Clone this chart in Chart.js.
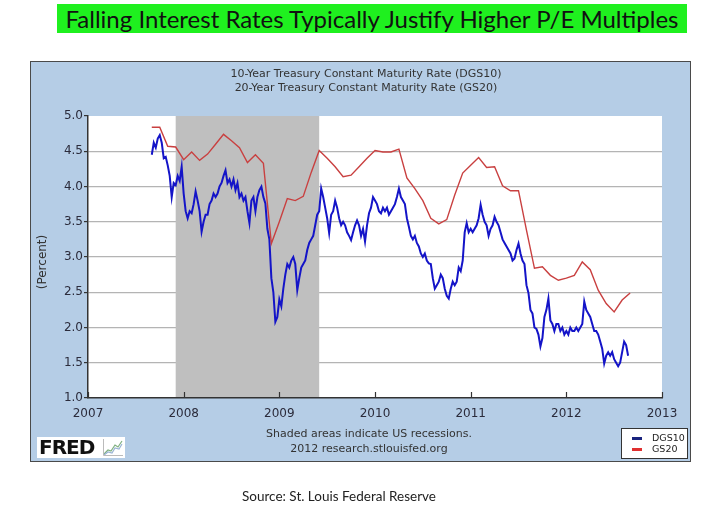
<!DOCTYPE html>
<html lang="en">
<head>
  <meta charset="UTF-8">
  <title>Falling Interest Rates Typically Justify Higher P/E Multiples</title>
  <script src="https://cdn.jsdelivr.net/npm/chart.js"></script>
  <style>
    body {
      margin: 0;
      width: 721px;
      height: 508px;
      position: relative;
      overflow: hidden;
      background: #fff;
      font-family: 'DejaVu Sans', sans-serif;
    }
    #headline {
      position: absolute;
      left: 57px;
      top: 4px;
      width: 630px;
      height: 29px;
      background: #1ff01f;
      color: #111;
      font-family: 'Lato', sans-serif;
      font-size: 24px;
      line-height: 29px;
      text-align: center;
      white-space: nowrap;
    }
    #panel {
      position: absolute;
      left: 30px;
      top: 61px;
      width: 661px;
      height: 401px;
      box-sizing: border-box;
      background: #b5cde6;
      border: 1.5px solid #4a4a4a;
    }
    #chart {
      position: absolute;
      left: 0;
      top: 0;
    }
    .txt {
      position: absolute;
      color: #333;
      font-size: 11px;
      line-height: 14px;
      text-align: center;
      white-space: nowrap;
    }
    #yTitle {
      left: -8px;
      top: 255px;
      width: 100px;
      font-size: 12px;
      transform: rotate(-90deg);
    }
    #legend {
      position: absolute;
      left: 621px;
      top: 428px;
      width: 67px;
      height: 31px;
      box-sizing: border-box;
      background: #fff;
      border: 1px solid #333;
      font-size: 9.5px;
      color: #222;
    }
    .item { position: absolute; left: 10px; height: 11px; line-height: 11px; }
    .item span { display: inline-block; width: 10px; height: 3px; vertical-align: middle; margin-right: 10px; }
    #fred {
      position: absolute;
      left: 37px;
      top: 437px;
      width: 88px;
      height: 21px;
      background: #fff;
    }
    #fred b {
      position: absolute;
      left: 2px;
      top: -1px;
      font-family: 'DejaVu Sans', sans-serif;
      font-weight: 900;
      font-size: 20px;
      line-height: 23px;
      letter-spacing: -1px;
      color: #111;
    }
    #fred svg { position: absolute; left: 66px; top: 2px; }
    #source {
      position: absolute;
      left: 189px;
      top: 488px;
      width: 300px;
      text-align: center;
      font-family: 'Lato', sans-serif;
      font-size: 13.5px;
      color: #222;
    }
  </style>
</head>
<body>
  <div id="headline">Falling Interest Rates Typically Justify Higher P/E Multiples</div>
  <div id="panel"></div>
  <canvas id="chart" width="721" height="508"></canvas>

  <div class="txt" style="left:166px; top:67px; width:400px;">10-Year Treasury Constant Maturity Rate (DGS10)</div>
  <div class="txt" style="left:166px; top:81px; width:400px;">20-Year Treasury Constant Maturity Rate (GS20)</div>
  <div class="txt" id="yTitle">(Percent)</div>
  <div class="txt" style="left:219px; top:427px; width:300px;">Shaded areas indicate US recessions.</div>
  <div class="txt" style="left:219px; top:442px; width:300px;">2012 research.stlouisfed.org</div>

  <div id="fred">
    <b>FRED</b>
    <svg width="20" height="17" viewBox="0 0 20 17">
      <polyline points="1,15 5,11 8,12 12,6 15,8 19,2" fill="none" stroke="#7fb07f" stroke-width="1.2"/>
      <polyline points="1,16 5,13 9,14 12,9 16,10 19,5" fill="none" stroke="#9ab4d4" stroke-width="1.2"/>
      <line x1="0.5" y1="0" x2="0.5" y2="16.5" stroke="#bbb"/>
      <line x1="0.5" y1="16.5" x2="20" y2="16.5" stroke="#bbb"/>
    </svg>
  </div>

  <div id="legend">
    <div class="item" style="top:3px;"><span style="background:#1a237e;"></span>DGS10</div>
    <div class="item" style="top:14px;"><span style="background:#e03030;"></span>GS20</div>
  </div>

  <div id="source">Source: St. Louis Federal Reserve</div>

  <script>
    // x axis range and ticks (years)
    const yearMin = 2007;
    const yearMax = 2013;
    const yTicksMin = 1.0;
    const yTicksMax = 5.0;

    // recession band, Dec 2007 - Jun 2009
    const recessionStart = 2007 + 11 / 12;
    const recessionEnd = 2009 + 5 / 12;

    // DGS10: four readings per month, starting Sep 2007
    const dgs10Start = 2007 + 8 / 12;
    const dgs10Values = [
      4.45, 4.62, 4.55, 4.68,   // 2007 Sep
      4.73, 4.62, 4.40, 4.42,   // Oct
      4.30, 4.15, 3.85, 4.05,   // Nov
      4.02, 4.15, 4.08, 4.28,   // Dec
      3.90, 3.65, 3.55, 3.65,   // 2008 Jan
      3.62, 3.75, 3.93, 3.80,   // Feb
      3.65, 3.36, 3.50, 3.60,   // Mar
      3.60, 3.75, 3.80, 3.90,   // Apr
      3.85, 3.90, 4.00, 4.05,   // May
      4.15, 4.23, 4.05, 4.10,   // Jun
      4.00, 4.10, 3.95, 4.05,   // Jul
      3.85, 3.90, 3.80, 3.85,   // Aug
      3.65, 3.48, 3.80, 3.85,   // Sep
      3.65, 3.85, 3.95, 4.00,   // Oct
      3.85, 3.76, 3.40, 3.25,   // Nov
      2.70, 2.50, 2.08, 2.15,   // Dec
      2.40, 2.30, 2.55, 2.75,   // 2009 Jan
      2.90, 2.85, 2.95, 3.00,   // Feb
      2.90, 2.53, 2.70, 2.85,   // Mar
      2.90, 2.95, 3.10, 3.20,   // Apr
      3.25, 3.30, 3.45, 3.60,   // May
      3.65, 3.97, 3.85, 3.70,   // Jun
      3.55, 3.34, 3.60, 3.65,   // Jul
      3.80, 3.70, 3.55, 3.45,   // Aug
      3.50, 3.45, 3.35, 3.30,   // Sep
      3.24, 3.35, 3.45, 3.52,   // Oct
      3.45, 3.30, 3.40, 3.22,   // Nov
      3.45, 3.62, 3.70, 3.85,   // Dec
      3.80, 3.75, 3.65, 3.62,   // 2010 Jan
      3.70, 3.65, 3.70, 3.60,   // Feb
      3.65, 3.70, 3.75, 3.85,   // Mar
      3.97, 3.85, 3.80, 3.75,   // Apr
      3.55, 3.43, 3.30, 3.25,   // May
      3.30, 3.20, 3.15, 3.05,   // Jun
      3.00, 3.05, 2.95, 2.91,   // Jul
      2.90, 2.70, 2.55, 2.60,   // Aug
      2.65, 2.75, 2.70, 2.55,   // Sep
      2.45, 2.41, 2.55, 2.65,   // Oct
      2.60, 2.65, 2.85, 2.80,   // Nov
      2.95, 3.35, 3.48, 3.35,   // Dec
      3.40, 3.35, 3.40, 3.45,   // 2011 Jan
      3.55, 3.74, 3.60, 3.50,   // Feb
      3.45, 3.30, 3.40, 3.45,   // Mar
      3.57, 3.50, 3.45, 3.35,   // Apr
      3.25, 3.20, 3.15, 3.10,   // May
      3.05, 2.95, 2.98, 3.10,   // Jun
      3.19, 3.05, 2.95, 2.90,   // Jul
      2.60, 2.49, 2.25, 2.20,   // Aug
      2.00, 1.98, 1.90, 1.73,   // Sep
      1.85, 2.15, 2.25, 2.41,   // Oct
      2.10, 2.05, 1.95, 2.05,   // Nov
      2.05, 1.95, 2.00, 1.90,   // Dec
      1.95, 1.90, 2.00, 1.95,   // 2012 Jan
      1.95, 2.00, 1.95, 2.00,   // Feb
      2.05, 2.37, 2.25, 2.20,   // Mar
      2.15, 2.05, 1.95, 1.95,   // Apr
      1.90, 1.80, 1.70, 1.49,   // May
      1.60, 1.65, 1.60, 1.65,   // Jun
      1.55, 1.50, 1.45, 1.50,   // Jul
      1.65, 1.80, 1.75, 1.60    // Aug
    ];

    // GS20: monthly, starting Sep 2007
    const gs20Start = 2007 + 8 / 12;
    const gs20Values = [
      4.84, 4.84, 4.57, 4.56,
      4.38, 4.49, 4.37, 4.46, 4.60, 4.74, 4.65, 4.55, 4.34, 4.45, 4.33, 3.19,
      3.50, 3.83, 3.80, 3.86, 4.20, 4.51, 4.40, 4.28, 4.14, 4.16, 4.28, 4.40,
      4.51, 4.49, 4.49, 4.53, 4.12, 3.97, 3.80, 3.55, 3.47, 3.53, 3.88, 4.19,
      4.30, 4.41, 4.27, 4.28, 4.01, 3.94, 3.94, 3.38, 2.84, 2.86, 2.74, 2.67,
      2.70, 2.74, 2.93, 2.82, 2.53, 2.34, 2.22, 2.39, 2.49
    ];

    const dgs10Points = dgs10Values.map((v, i) => ({ x: dgs10Start + i / 48, y: v }));
    const gs20Points = gs20Values.map((v, i) => ({ x: gs20Start + i / 12, y: v }));

    // white plot area, grey recession band, inward x ticks
    const fredLook = {
      id: 'fredLook',
      beforeDraw(chart) {
        const { ctx, chartArea: a } = chart;
        ctx.save();
        ctx.fillStyle = '#fff';
        ctx.fillRect(a.left, a.top, a.right - a.left, a.bottom - a.top);
        ctx.restore();
      },
      beforeDatasetsDraw(chart) {
        const { ctx, chartArea: a, scales: { x } } = chart;
        const x0 = x.getPixelForValue(recessionStart);
        const x1 = x.getPixelForValue(recessionEnd);
        ctx.save();
        ctx.fillStyle = '#bfbfbf';
        ctx.fillRect(x0, a.top, x1 - x0, a.bottom - a.top - 1);
        ctx.restore();
      },
      afterDraw(chart) {
        const { ctx, chartArea: a, scales: { x } } = chart;
        ctx.save();
        ctx.strokeStyle = '#333';
        ctx.lineWidth = 1.2;
        x.ticks.forEach(t => {
          const px = Math.round(x.getPixelForValue(t.value)) + 0.5;
          ctx.beginPath();
          ctx.moveTo(px, a.bottom);
          ctx.lineTo(px, a.bottom - 6);
          ctx.stroke();
        });
        ctx.restore();
      }
    };

    new Chart(document.getElementById('chart'), {
      type: 'line',
      data: {
        datasets: [
          {
            label: 'GS20',
            data: gs20Points,
            borderColor: '#c94040',
            borderWidth: 1.4,
            pointRadius: 0,
            fill: false,
            tension: 0
          },
          {
            label: 'DGS10',
            data: dgs10Points,
            borderColor: '#1414c8',
            borderWidth: 2,
            pointRadius: 0,
            fill: false,
            tension: 0
          }
        ]
      },
      options: {
        responsive: false,
        animation: false,
        layout: { padding: { top: 116, right: 59, left: 0, bottom: 0 } },
        plugins: { legend: { display: false }, tooltip: { enabled: false } },
        scales: {
          x: {
            type: 'linear',
            min: yearMin,
            max: yearMax,
            afterFit(s) { s.height = 110; },
            grid: { display: false, drawTicks: true, tickLength: 0 },
            border: { display: true, color: '#333', width: 1.5 },
            ticks: {
              stepSize: 1,
              autoSkip: false,
              maxRotation: 0,
              padding: 9,
              color: '#2b2b3b',
              font: { family: 'DejaVu Sans', size: 12 },
              callback: v => String(v)
            }
          },
          y: {
            min: yTicksMin,
            max: yTicksMax,
            afterFit(s) { s.width = 88; },
            grid: {
              color: c => (c.tick && (c.tick.value === 5 || c.tick.value === 1)) ? 'rgba(0,0,0,0)' : '#b4b4b4',
              tickColor: '#333',
              tickLength: 4,
              lineWidth: 1.2
            },
            border: { display: true, color: '#333', width: 1.5 },
            ticks: {
              stepSize: 0.5,
              padding: 1,
              color: '#2b2b3b',
              font: { family: 'DejaVu Sans', size: 12 },
              callback: v => v.toFixed(1)
            }
          }
        }
      },
      plugins: [fredLook]
    });
  </script>
</body>
</html>
